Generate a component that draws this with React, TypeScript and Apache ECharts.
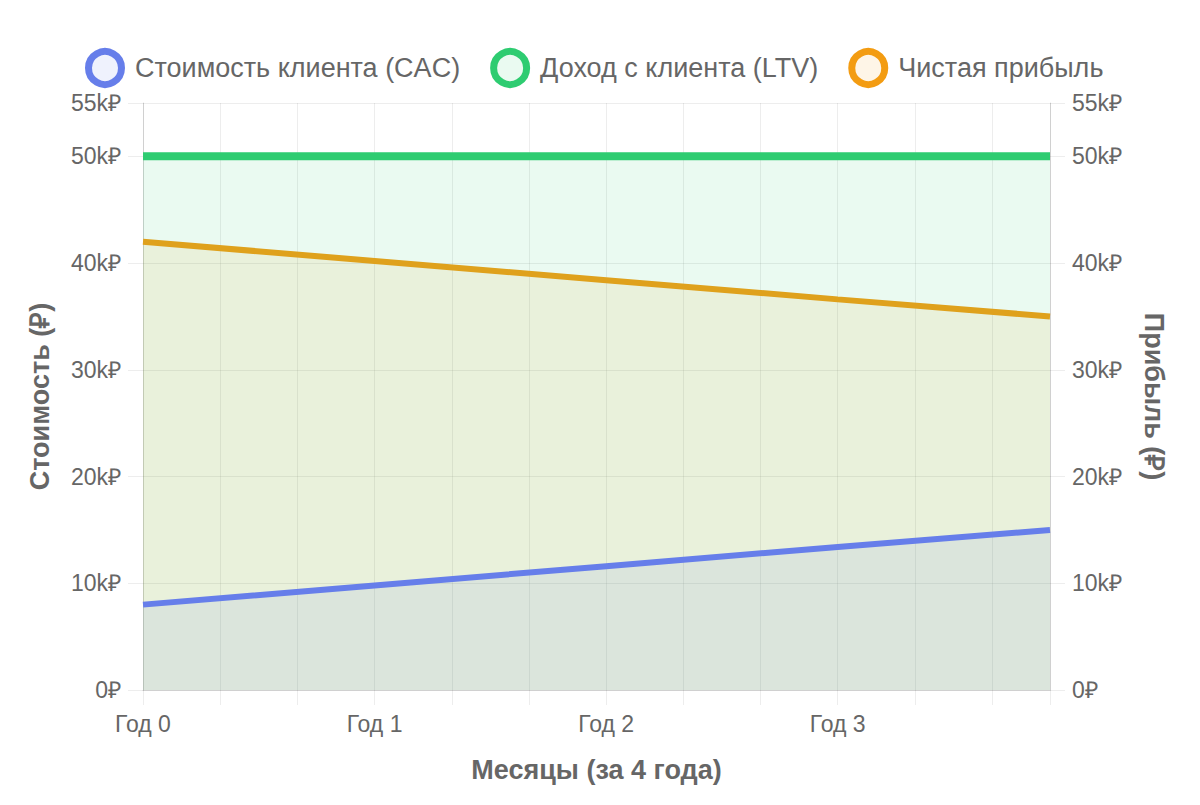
import * as echarts from 'echarts';
import { useEffect, useRef } from 'react';

// месяцы, в которых сняты точки (линии прямые)
const months = [0, 12, 24, 36, 47];
const cac = [8000, 9800, 11600, 13400, 15000];
const ltv = [50000, 50000, 50000, 50000, 50000];
const profit = [42000, 40200, 38400, 36600, 35000];

const seriesNames = ['Стоимость клиента (CAC)', 'Доход с клиента (LTV)', 'Чистая прибыль'];
const yearLabels = ['Год 0', 'Год 1', 'Год 2', 'Год 3'];

const FONT = '"Liberation Sans", Arial, Helvetica, sans-serif';
const GRID_COLOR = 'rgba(0,0,0,0.07)';
const TEXT_COLOR = '#666';

const fmtRub = (v: number) => (v === 0 ? '0₽' : v / 1000 + 'k₽');

export default function App() {
  const chartRef = useRef<HTMLDivElement>(null);

  useEffect(() => {
    if (!chartRef.current) return;
    const chart = echarts.init(chartRef.current, null, { renderer: 'svg' });

    const yAxisBase = {
      type: 'value',
      min: 0,
      max: 55000,
      interval: 10000,
      nameLocation: 'middle',
      nameTextStyle: { color: TEXT_COLOR, fontSize: 27, fontWeight: 'bold', fontFamily: FONT },
      axisLabel: { color: TEXT_COLOR, fontSize: 23, fontFamily: FONT, formatter: fmtRub, margin: 22 },
      axisTick: { show: true, length: 15, lineStyle: { color: GRID_COLOR } },
      axisLine: { show: true, lineStyle: { color: 'rgba(0,0,0,0.12)' } },
    };

    chart.setOption({
      animation: false,
      textStyle: { fontFamily: FONT },
      legend: {
        top: 43,
        left: 80,
        icon: 'circle',
        itemWidth: 50,
        itemHeight: 33,
        itemGap: 30,
        textStyle: { color: TEXT_COLOR, fontSize: 27, fontFamily: FONT },
        data: [
          { name: seriesNames[0], itemStyle: { color: 'rgba(102,126,234,0.1)', borderColor: '#667eea', borderWidth: 7 } },
          { name: seriesNames[1], itemStyle: { color: 'rgba(46,204,113,0.1)', borderColor: '#2ecc71', borderWidth: 7 } },
          { name: seriesNames[2], itemStyle: { color: 'rgba(243,156,18,0.1)', borderColor: '#f39c12', borderWidth: 7 } },
        ],
      },
      grid: { left: 143, right: 150, top: 103, bottom: 115, containLabel: false },
      xAxis: {
        type: 'value',
        min: 0,
        max: 47,
        interval: 4,
        name: 'Месяцы (за 4 года)',
        nameLocation: 'middle',
        nameGap: 66,
        nameTextStyle: { color: TEXT_COLOR, fontSize: 27, fontWeight: 'bold', fontFamily: FONT },
        axisLabel: {
          color: TEXT_COLOR,
          fontSize: 23,
          fontFamily: FONT,
          margin: 22,
          formatter: (v: number) => (v % 12 === 0 ? yearLabels[v / 12] ?? '' : ''),
        },
        axisTick: { show: true, length: 15, lineStyle: { color: GRID_COLOR } },
        axisLine: { show: true, lineStyle: { color: 'rgba(0,0,0,0.12)' } },
        splitLine: { show: true, lineStyle: { color: GRID_COLOR } },
      },
      yAxis: [
        {
          ...yAxisBase,
          name: 'Стоимость (₽)',
          nameGap: 90,
          position: 'left',
          splitLine: { show: true, lineStyle: { color: GRID_COLOR } },
        },
        {
          ...yAxisBase,
          name: 'Прибыль (₽)',
          nameGap: 90,
          nameRotate: -90,
          position: 'right',
          splitLine: { show: false },
        },
      ],
      series: [
        {
          name: seriesNames[0],
          type: 'line',
          z: 4,
          data: months.map((m, i) => [m, cac[i]]),
          showSymbol: false,
          lineStyle: { color: '#667eea', width: 6 },
          itemStyle: { color: '#667eea' },
          areaStyle: { color: 'rgba(102,126,234,0.1)', opacity: 1, origin: 'start' },
        },
        {
          name: seriesNames[1],
          type: 'line',
          z: 3,
          data: months.map((m, i) => [m, ltv[i]]),
          showSymbol: false,
          lineStyle: { color: '#2ecc71', width: 8 },
          itemStyle: { color: '#2ecc71' },
          areaStyle: { color: 'rgba(46,204,113,0.1)', opacity: 1, origin: 'start' },
        },
        {
          name: seriesNames[2],
          type: 'line',
          z: 2,
          yAxisIndex: 1,
          data: months.map((m, i) => [m, profit[i]]),
          showSymbol: false,
          lineStyle: { color: '#f39c12', width: 6 },
          itemStyle: { color: '#f39c12' },
          areaStyle: { color: 'rgba(243,156,18,0.1)', opacity: 1, origin: 'start' },
        },
      ],
    });

    return () => chart.dispose();
  }, []);

  return <div ref={chartRef} style={{ width: 1200, height: 805, margin: -8 }} />;
}
